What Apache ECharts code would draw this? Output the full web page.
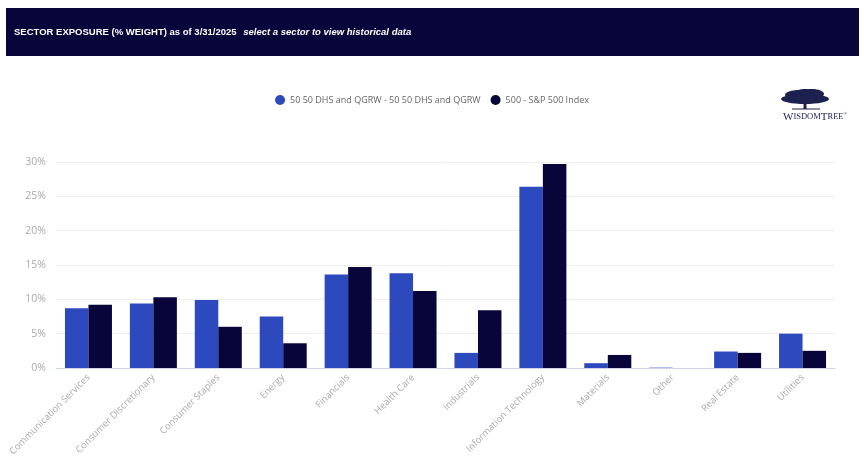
<!DOCTYPE html>
<html lang="en">
<head>
  <meta http-equiv="Content-Type" content="text/html; charset=UTF-8">
  <title>Sector Exposure</title>
  <style>
    html, body {
      padding: 0;
      margin: 0;
      background: #fff;
    }
    #myChart {
      width: 864px;
      height: 457px;
    }
  </style>
</head>
<body>
  <div id="myChart"></div>
  <script src="https://cdn.jsdelivr.net/npm/echarts@6/dist/echarts.min.js"></script>
  <script>
    const myChart = echarts.init(document.getElementById('myChart'));
    const sectors = ['Communication Services', 'Consumer Discretionary', 'Consumer Staples', 'Energy',
      'Financials', 'Health Care', 'Industrials', 'Information Technology', 'Materials', 'Other',
      'Real Estate', 'Utilities'];
    const fundName = '50 50 DHS and QGRW - 50 50 DHS and QGRW';
    const indexName = '500 - S&P 500 Index';
    const fundWeights = [8.7, 9.4, 9.9, 7.5, 13.6, 13.8, 2.2, 26.4, 0.7, 0.05, 2.4, 5.0];
    const indexWeights = [9.2, 10.3, 6.0, 3.6, 14.7, 11.2, 8.4, 29.7, 1.9, 0, 2.2, 2.5];
    const font = '"Open Sans", "DejaVu Sans", sans-serif';
    const navy = '#07053a';
    const logoNavy = '#1c2150';

    const option = {
      backgroundColor: '#fff',
      animation: false,
      textStyle: { fontFamily: font },
      graphic: [
        // header bar
        {
          type: 'rect',
          shape: { x: 6, y: 8, width: 853, height: 48 },
          style: { fill: navy }
        },
        {
          type: 'text',
          x: 14, y: 32,
          style: {
            text: '{b|SECTOR EXPOSURE (% WEIGHT) as of 3/31/2025}  {i|select a sector to view historical data}',
            verticalAlign: 'middle',
            rich: {
              b: { fill: '#fff', fontWeight: 'bold', fontSize: 9.5, fontFamily: '"Liberation Sans", sans-serif' },
              i: { fill: '#fff', fontWeight: 'bold', fontStyle: 'italic', fontSize: 9.5, fontFamily: '"Liberation Sans", sans-serif' }
            }
          }
        },
        // logo: tree
        {
          type: 'group',
          children: [
            { type: 'ellipse', shape: { cx: 805, cy: 99, rx: 24, ry: 5 }, style: { fill: logoNavy } },
            { type: 'ellipse', shape: { cx: 799, cy: 95, rx: 14, ry: 5 }, style: { fill: logoNavy } },
            { type: 'ellipse', shape: { cx: 812, cy: 94, rx: 12, ry: 5 }, style: { fill: logoNavy } },
            { type: 'ellipse', shape: { cx: 805, cy: 92, rx: 9, ry: 3 }, style: { fill: logoNavy } },
            { type: 'rect', shape: { x: 803.5, y: 102, width: 3, height: 7 }, style: { fill: logoNavy } },
            { type: 'line', shape: { x1: 792, y1: 109, x2: 820, y2: 109 }, style: { stroke: logoNavy, lineWidth: 1 } }
          ]
        },
        {
          type: 'text',
          x: 783, y: 117,
          style: {
            text: '{L|W}{s|ISDOM}{L|T}{s|REE}{r|®}',
            verticalAlign: 'middle',
            rich: {
              L: { fill: logoNavy, fontSize: 11, fontFamily: '"Liberation Serif", serif' },
              s: { fill: logoNavy, fontSize: 8.5, fontFamily: '"Liberation Serif", serif' },
              r: { fill: logoNavy, fontSize: 5, fontFamily: '"Liberation Serif", serif', verticalAlign: 'top' }
            }
          }
        }
      ],
      legend: {
        top: 90,
        left: 'center',
        icon: 'circle',
        itemWidth: 10,
        itemHeight: 10,
        itemGap: 10,
        textStyle: { color: '#666', fontSize: 9, fontFamily: font },
        data: [fundName, indexName]
      },
      grid: {
        left: 56,
        right: 29,
        top: 162,
        bottom: 89,
        containLabel: false,
        outerBoundsMode: 'none'
      },
      xAxis: {
        type: 'category',
        data: sectors,
        axisLine: { lineStyle: { color: '#ccd6eb' } },
        axisTick: { lineStyle: { color: '#ccd6eb' }, length: 5 },
        axisLabel: {
          rotate: 45,
          interval: 0,
          color: '#aaa',
          fontSize: 9.5,
          fontFamily: font,
          margin: 8
        }
      },
      yAxis: {
        type: 'value',
        min: 0,
        max: 30,
        interval: 5,
        axisLabel: {
          formatter: '{value}%',
          color: '#aaa',
          fontSize: 10.5,
          fontFamily: font,
          margin: 10
        },
        splitLine: { lineStyle: { color: '#eeeeee' } }
      },
      series: [{
        name: fundName,
        type: 'bar',
        data: fundWeights,
        barWidth: 23.5,
        barGap: '0%',
        itemStyle: { color: '#2d49be' }
      }, {
        name: indexName,
        type: 'bar',
        data: indexWeights,
        barWidth: 23.5,
        itemStyle: { color: navy }
      }]
    };
    myChart.setOption(option);
  </script>
</body>
</html>
